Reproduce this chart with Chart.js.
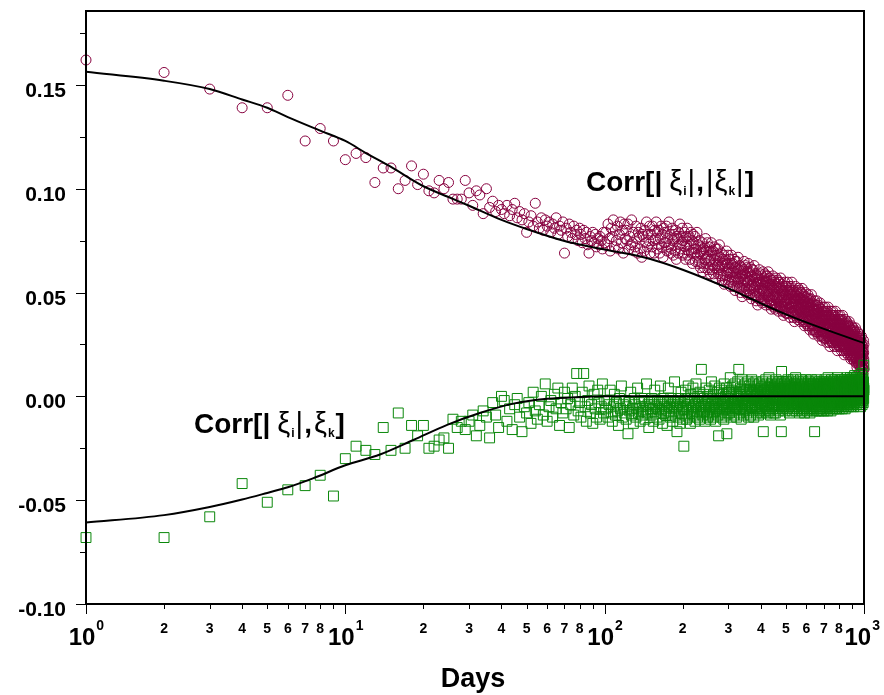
<!DOCTYPE html>
<html lang="en">
<head>
<meta charset="UTF-8" />
<title>Corr vs Days</title>
<script src="https://cdn.jsdelivr.net/npm/chart.js"></script>
<style>
  html, body { margin: 0; padding: 0; background: #fff; }
  #wrap { width: 884px; height: 695px; }
</style>
</head>
<body>
<div id="wrap"><canvas id="chart" width="884" height="695"></canvas></div>
<script>
// one value per day lag, day 1 .. 1000 (index 0 = day 1)
const absCorr = [
  .162,.156,.148,.139,.139,.145,.123,.129,.123,.114,
  .117,.115,.103,.110,.110,.100,.104,.111,.102,.107,
  .099,.098,.104,.100,.103,.095,.095,.095,.104,.098,
  .092,.099,.097,.088,.100,.091,.094,.089,.092,.090,
  .088,.092,.087,.090,.093,.086,.089,.085,.088,.079,
  .084,.087,.082,.093,.084,.081,.086,.080,.085,.082,
  .084,.079,.083,.081,.086,.078,.082,.080,.084,.069,
  .081,.077,.083,.079,.076,.082,.078,.080,.075,.081,
  .078,.074,.080,.076,.079,.073,.069,.077,.075,.079,
  .074,.078,.072,.076,.073,.077,.075,.071,.079,.074,
  .079,.073,.083,.076,.070,.081,.077,.085,.072,.080,
  .075,.082,.071,.078,.084,.074,.080,.069,.083,.076,
  .080,.075,.083,.071,.077,.073,.085,.074,.079,.070,
  .072,.082,.076,.069,.079,.077,.071,.081,.067,.078,
  .077,.070,.080,.074,.084,.072,.078,.075,.082,.069,
  .078,.072,.082,.075,.069,.080,.076,.084,.071,.079,
  .073,.080,.069,.076,.082,.072,.078,.067,.081,.074,
  .079,.074,.082,.070,.076,.072,.084,.073,.078,.069,
  .071,.081,.075,.068,.078,.076,.070,.080,.066,.077,
  .076,.069,.079,.073,.083,.071,.077,.074,.081,.068,
  .075,.069,.079,.072,.066,.077,.073,.081,.068,.076,
  .070,.077,.066,.073,.079,.069,.075,.064,.078,.071,
  .074,.069,.077,.065,.071,.067,.079,.068,.073,.064,
  .065,.075,.069,.062,.072,.070,.064,.074,.060,.071,
  .069,.062,.072,.066,.076,.064,.070,.067,.074,.061,
  .068,.062,.072,.065,.059,.070,.066,.074,.061,.069,
  .063,.070,.059,.066,.072,.062,.068,.057,.071,.064,
  .068,.063,.071,.059,.065,.061,.073,.062,.067,.058,
  .059,.069,.063,.056,.066,.064,.058,.068,.054,.065,
  .063,.056,.066,.060,.070,.058,.064,.061,.068,.055,
  .062,.056,.066,.059,.053,.064,.060,.068,.055,.063,
  .057,.064,.053,.060,.066,.056,.062,.051,.065,.058,
  .062,.057,.065,.053,.059,.055,.067,.056,.061,.052,
  .053,.063,.057,.050,.060,.058,.052,.062,.048,.059,
  .058,.051,.061,.055,.065,.053,.059,.056,.063,.050,
  .058,.052,.062,.055,.049,.060,.056,.064,.051,.059,
  .053,.060,.049,.056,.062,.052,.058,.047,.061,.054,
  .058,.053,.061,.049,.055,.051,.063,.052,.057,.048,
  .049,.059,.053,.046,.056,.054,.048,.058,.044,.055,
  .054,.047,.057,.051,.061,.049,.055,.052,.059,.046,
  .054,.048,.058,.051,.045,.056,.052,.060,.047,.055,
  .050,.057,.046,.053,.059,.049,.055,.044,.058,.051,
  .055,.050,.058,.046,.052,.048,.060,.049,.054,.045,
  .047,.057,.051,.044,.054,.052,.046,.056,.042,.053,
  .051,.044,.054,.048,.058,.046,.052,.049,.056,.043,
  .051,.045,.055,.048,.042,.053,.049,.057,.044,.052,
  .047,.054,.043,.050,.056,.046,.052,.041,.055,.048,
  .052,.047,.055,.043,.049,.045,.057,.046,.051,.042,
  .044,.054,.048,.041,.051,.049,.043,.053,.039,.050,
  .048,.041,.051,.045,.055,.043,.049,.046,.053,.040,
  .049,.043,.053,.046,.040,.051,.047,.055,.042,.050,
  .044,.051,.040,.047,.053,.043,.049,.038,.052,.045,
  .050,.045,.053,.041,.047,.043,.055,.044,.049,.040,
  .041,.051,.045,.038,.048,.046,.040,.050,.036,.047,
  .046,.039,.049,.043,.053,.041,.047,.044,.051,.038,
  .046,.040,.050,.043,.037,.048,.044,.052,.039,.047,
  .042,.049,.038,.045,.051,.041,.047,.036,.050,.043,
  .047,.042,.050,.038,.044,.040,.052,.041,.046,.037,
  .039,.049,.043,.036,.046,.044,.038,.048,.034,.045,
  .043,.036,.046,.040,.050,.038,.044,.041,.048,.035,
  .043,.037,.047,.040,.034,.045,.041,.049,.036,.044,
  .038,.045,.034,.041,.047,.037,.043,.032,.046,.039,
  .044,.039,.047,.035,.041,.037,.049,.038,.043,.034,
  .035,.045,.039,.032,.042,.040,.034,.044,.030,.041,
  .039,.032,.042,.036,.046,.034,.040,.037,.044,.031,
  .040,.034,.044,.037,.031,.042,.038,.046,.033,.041,
  .035,.042,.031,.038,.044,.034,.040,.029,.043,.036,
  .040,.035,.043,.031,.037,.033,.045,.034,.039,.030,
  .032,.042,.036,.029,.039,.037,.031,.041,.027,.038,
  .036,.029,.039,.033,.043,.031,.037,.034,.041,.028,
  .037,.031,.041,.034,.028,.039,.035,.043,.030,.038,
  .032,.039,.028,.035,.041,.031,.037,.026,.040,.033,
  .038,.033,.041,.029,.035,.031,.043,.032,.037,.028,
  .029,.039,.033,.026,.036,.034,.028,.038,.024,.035,
  .034,.027,.037,.031,.041,.029,.035,.032,.039,.026,
  .035,.029,.039,.032,.026,.037,.033,.041,.028,.036,
  .030,.037,.026,.033,.039,.029,.035,.024,.038,.031,
  .036,.031,.039,.027,.033,.029,.041,.030,.035,.026,
  .027,.037,.031,.024,.034,.032,.026,.036,.022,.033,
  .032,.025,.035,.029,.039,.027,.033,.030,.037,.024,
  .033,.027,.037,.030,.024,.035,.031,.039,.026,.034,
  .028,.035,.024,.031,.037,.027,.033,.022,.036,.029,
  .034,.029,.037,.025,.031,.027,.039,.028,.033,.024,
  .025,.035,.029,.022,.032,.030,.024,.034,.020,.031,
  .030,.023,.033,.027,.037,.025,.031,.028,.035,.022,
  .030,.024,.034,.027,.021,.032,.028,.036,.023,.031,
  .026,.033,.022,.029,.035,.025,.031,.020,.034,.027,
  .031,.026,.034,.022,.028,.024,.036,.025,.030,.021,
  .023,.033,.027,.020,.030,.028,.022,.032,.018,.029,
  .027,.020,.030,.024,.034,.022,.028,.025,.032,.019,
  .027,.021,.031,.024,.018,.029,.025,.033,.020,.028,
  .023,.030,.019,.026,.032,.022,.028,.017,.031,.024,
  .028,.023,.031,.019,.025,.021,.033,.022,.027,.018,
  .019,.029,.023,.016,.026,.024,.018,.028,.014,.025,
  .024,.017,.027,.021,.031,.019,.025,.022,.029,.016,
  .024,.018,.028,.021,.015,.026,.022,.030,.017,.025,
  .019,.026,.015,.022,.028,.018,.024,.013,.027,.020,
  .024,.019,.027,.015,.021,.017,.029,.018,.023,.014,
  .015,.025,.019,.012,.022,.020,.014,.024,.011,.021,
  .020,.013,.023,.017,.027,.015,.021,.018,.025,.013
];

const signCorr = [
  -.068,-.068,-.058,-.042,-.051,-.045,-.043,-.038,-.048,-.030,
  -.024,-.026,-.028,-.015,-.026,-.008,-.025,-.014,-.019,-.014,
  -.025,-.024,-.021,-.020,-.025,-.011,-.015,-.012,-.016,-.012,
  -.009,-.019,-.014,-.007,-.010,-.020,-.003,-.009,-.015,.000,
  -.002,-.012,-.006,-.016,-.004,-.001,-.010,-.017,-.005,-.008,
  -.003,-.013,.002,-.007,-.011,-.004,.000,-.009,.006,-.012,
  -.005,-.002,-.010,.001,-.006,.004,-.014,-.003,-.008,.002,
  -.006,-.001,-.015,-.004,.004,-.009,.000,.011,-.007,-.003,
  -.010,.002,.011,-.005,-.012,-.002,.005,-.008,-.004,-.013,
  .001,-.006,-.010,.003,-.003,-.011,-.005,.006,-.008,-.002,
  -.006,-.002,-.010,-.004,.003,-.008,-.012,-.005,.001,-.009,
  -.003,-.007,-.014,-.001,-.006,.005,-.010,-.004,-.008,-.002,
  -.011,-.005,-.018,-.003,-.007,.002,-.009,-.006,-.013,-.001,
  -.004,-.010,-.006,.004,-.008,-.003,-.012,-.005,-.001,-.009,
  -.007,-.002,-.011,-.005,.006,-.008,-.004,-.015,-.003,-.006,
  -.009,-.001,-.006,-.012,-.004,.003,-.008,-.005,-.010,-.002,
  -.006,-.011,-.003,.005,-.007,-.004,-.013,-.001,-.008,-.005,
  -.002,-.009,-.006,-.014,-.003,.004,-.007,-.005,-.010,-.001,
  -.008,-.004,-.012,-.002,-.006,.007,-.009,-.003,-.005,-.017,
  -.004,-.010,-.001,-.007,-.013,-.003,.002,-.008,-.005,-.011,
  -.006,-.024,-.002,-.009,.003,-.005,-.011,-.001,-.007,.005,
  -.004,-.010,-.002,-.013,.001,-.006,-.003,-.008,.004,-.005,
  -.009,-.001,-.012,-.004,.006,-.007,-.002,-.010,.000,-.005,
  -.003,-.011,.002,-.006,-.008,.013,-.004,-.001,-.009,-.005,
  .001,-.007,-.003,-.012,-.005,.004,-.008,-.002,-.010,.000,
  -.004,-.009,.003,-.006,-.001,-.011,-.005,.007,-.003,-.008,
  -.002,-.010,.001,-.005,-.007,.005,-.003,-.012,-.001,-.006,
  -.004,.002,-.009,-.003,-.019,-.006,.004,-.002,-.008,-.001,
  -.005,.003,-.010,-.002,-.007,.001,-.004,-.011,.006,-.003,
  -.006,.000,-.009,-.002,.004,-.018,-.005,-.001,-.008,.002,
  -.003,-.008,.002,-.005,.009,-.001,-.010,-.004,.003,-.006,
  -.002,.005,-.007,-.003,.001,-.009,-.004,.006,-.001,-.006,
  .002,-.005,-.010,.000,-.003,.007,-.006,-.001,.013,-.004,
  -.008,.001,-.003,.004,-.006,-.011,.000,-.004,.008,-.002,
  -.005,.002,-.009,-.001,.005,-.004,-.007,.001,-.003,.006,
  -.006,-.001,.003,-.008,.000,-.004,.007,-.002,-.010,.002,
  -.003,.005,-.006,.000,-.009,.003,-.002,-.005,.008,-.001,
  -.007,.002,-.004,.006,-.001,-.010,.001,-.003,.004,-.006,
  .000,-.005,.007,-.002,-.008,.003,-.004,.001,-.006,.005,
  -.002,-.009,.002,-.004,.006,-.001,-.007,.003,-.003,.000,
  -.005,.004,-.002,-.008,.001,-.003,.007,-.006,-.017,.002,
  -.001,.005,-.004,.000,-.007,.003,-.002,.008,-.005,.001,
  -.003,.006,-.008,.000,-.002,.004,-.006,.002,-.004,.009,
  -.001,-.007,.003,-.003,.005,-.009,.001,-.002,.006,-.005,
  .002,-.004,.007,-.001,-.006,.003,-.003,.000,-.008,.004,
  -.002,.005,-.005,.002,-.008,.004,-.001,.008,-.004,.001,
  -.006,.003,-.002,.006,-.004,.000,-.007,.004,-.001,.007,
  -.003,.002,-.005,.005,-.002,-.009,.003,-.001,.006,-.017,
  .012,-.004,.001,-.006,.004,-.002,.007,-.003,.000,-.005,
  .003,-.001,.006,-.004,.002,-.007,.005,-.002,.001,-.005,
  .004,-.002,.007,-.003,.000,-.006,.003,-.001,.008,-.004,
  .002,-.005,.005,-.002,.001,-.008,.004,-.003,.006,.000,
  -.004,.003,-.001,.007,-.005,.002,-.003,.005,-.007,.001,
  .004,-.002,.008,-.004,.000,-.006,.003,-.001,.006,-.003,
  .001,-.005,.005,-.002,.009,-.004,.002,-.007,.004,-.001,
  -.003,.006,-.001,.003,-.006,.001,-.004,.007,-.002,.002,
  -.005,.004,.000,-.008,.005,-.002,.003,-.004,.008,-.001,
  .002,-.006,.004,-.003,.001,-.007,.006,-.002,.003,-.005,
  .000,.007,-.004,.002,-.001,-.006,.005,-.003,.001,-.008,
  .004,-.002,.006,-.005,.002,-.001,.008,-.004,.000,-.006,
  .003,-.003,.005,-.001,-.007,.004,-.002,.006,-.005,.001,
  -.004,.007,-.001,.003,-.006,.002,-.003,.005,-.008,.000,
  .004,-.002,.006,-.005,.001,-.003,.008,-.001,.003,-.006,
  .002,-.004,.005,-.001,-.007,.003,.000,-.005,.006,-.002,
  .001,-.006,.004,-.003,-.017,.002,-.004,.007,-.001,.003,
  -.005,.005,-.002,.001,-.007,.004,-.003,.008,.000,-.004,
  .003,-.001,.006,-.006,.002,-.003,.005,-.002,.001,-.007,
  .004,-.004,.007,-.001,.002,-.005,.003,-.002,.006,-.006,
  .001,-.003,.005,-.007,.002,.000,-.004,.006,-.002,.003,
  -.005,.004,-.001,.007,-.006,.002,-.003,.005,-.001,-.007,
  .003,-.003,.006,-.001,.004,-.005,.008,.000,-.004,.005,
  .001,-.006,.004,-.002,.007,-.003,.002,-.005,.006,.000,
  -.003,.005,.001,-.007,.004,-.002,.009,-.004,.003,-.001,
  .006,-.005,.002,-.001,.005,-.006,.003,.000,-.003,.007,
  .002,-.004,.006,-.002,.001,-.007,.004,-.001,.008,-.003,
  .003,-.005,.005,.000,-.002,.006,-.006,.002,-.001,.004,
  -.004,.007,.001,-.003,.005,-.002,.003,-.006,.006,.000,
  .002,-.004,.008,-.001,.004,-.005,.001,-.002,.006,-.003,
  .005,-.001,.003,-.006,.007,.000,-.003,.004,-.002,.009,
  .001,-.005,.005,-.002,.003,-.004,.006,.000,-.003,.004,
  .002,-.006,.007,-.001,.004,-.003,.001,.008,-.004,.003,
  -.002,.005,.000,-.005,.006,-.001,.003,-.004,.007,.001,
  -.003,.004,.002,-.006,.008,-.002,.005,-.001,.003,-.004,
  .006,.000,-.003,.004,-.005,.007,.001,-.002,.005,-.004,
  .002,-.001,.008,-.003,.004,-.006,.003,.000,.006,-.002,
  .001,-.004,.005,-.001,.007,-.003,.002,-.005,.009,.000,
  .004,-.002,.006,-.004,.001,.007,-.003,.003,-.001,.005,
  -.005,.002,.008,-.002,.004,-.001,.006,-.004,.003,.000,
  .007,-.003,.002,.005,-.001,.009,-.004,.003,.001,-.002,
  .006,-.005,.004,.000,.008,-.002,.003,-.004,.005,.001,
  .004,-.002,.007,.000,.005,-.004,.009,.002,-.001,.006,
  .001,-.005,.008,.003,-.002,.006,.000,.004,-.003,.010,
  .002,-.001,.006,-.004,.005,.001,.008,-.002,.003,.000,
  .007,-.003,.004,.001,.009,-.001,.005,-.004,.002,.006,
  .000,.008,-.002,.004,.001,.006,-.003,.003,.010,-.001,
  .005,.002,-.004,.007,.000,.004,-.002,.008,.001,.003,
  -.003,.006,.002,.009,-.001,.004,.000,.007,-.005,.003,
  .005,-.002,.008,.001,.004,-.003,.006,.002,.011,-.001,
  .003,.007,-.004,.005,.000,.008,.002,-.002,.006,.004,
  .001,.009,-.003,.005,.002,.007,-.001,.004,.015,.003
];

// smooth fitted curves
const absFitDays = [1, 2, 3, 4, 5, 6, 8, 10, 12, 15, 20, 25, 30, 40, 50, 70, 80, 100, 150, 200, 300, 400, 500, 700, 1000];
const absFitVals = [.1563, .1520, .1480, .1430, .1390, .1345, .1280, .1230, .1172, .1105, .1012, .0960, .0918, .0850, .0806, .0748, .0731, .0707, .0662, .0610, .0520, .0448, .0395, .0325, .0257];
const signFitDays = [1, 2, 3, 4, 5, 6, 7.5, 10, 13.6, 18.3, 24.7, 33, 44.5, 60, 80, 100, 200, 1000];
const signFitVals = [-.0608, -.0572, -.0533, -.0497, -.0465, -.0438, -.0395, -.0332, -.0280, -.0210, -.0137, -.0080, -.0035, -.0012, -.0003, .0000, .0000, .0000];

const yTickValues = [-0.10, -0.05, 0.00, 0.05, 0.10, 0.15];
const yTickLabels = ["-0.10", "-0.05", "0.00", "0.05", "0.10", "0.15"];
const yMinorValues = [-0.075, -0.025, 0.025, 0.075, 0.125, 0.175];
const xDecades = [1, 10, 100, 1000];
const xDecadeExp = ["0", "1", "2", "3"];
const xMinorDigits = [2, 3, 4, 5, 6, 7, 8, 9];
const xMinorLabelled = [2, 3, 4, 5, 6, 7, 8];

const FONT = '"Liberation Sans", Arial, sans-serif';
const RED = '#87003f';
const GREEN = '#0a870a';

const absPoints = absCorr.map((v, i) => ({ x: i + 1, y: v }));
const signPoints = signCorr.map((v, i) => ({ x: i + 1, y: v }));
const absFit = absFitDays.map((d, i) => ({ x: d, y: absFitVals[i] }));
const signFit = signFitDays.map((d, i) => ({ x: d, y: signFitVals[i] }));

// draw a label made of pieces in different fonts, left to right
function drawPieces(ctx, x, y, pieces) {
  pieces.forEach(p => {
    ctx.font = p.f;
    x += p.dx || 0;
    ctx.fillText(p.t, x, y + (p.dy || 0));
    x += ctx.measureText(p.t).width;
  });
}

const axisDecor = {
  id: 'axisDecor',
  afterDraw(chart) {
    const { ctx, chartArea: a, scales: { x, y } } = chart;
    ctx.save();
    ctx.strokeStyle = '#000';
    ctx.fillStyle = '#000';

    // frame
    ctx.lineWidth = 2;
    ctx.strokeRect(a.left, a.top, a.right - a.left, a.bottom - a.top);

    // tick marks
    ctx.lineWidth = 1;
    ctx.beginPath();
    yTickValues.forEach(v => {
      const py = Math.round(y.getPixelForValue(v)) + 0.5;
      ctx.moveTo(a.left - 10, py); ctx.lineTo(a.left, py);
    });
    yMinorValues.forEach(v => {
      const py = Math.round(y.getPixelForValue(v)) + 0.5;
      ctx.moveTo(a.left - 6, py); ctx.lineTo(a.left, py);
    });
    xDecades.forEach(d => {
      const px = Math.round(x.getPixelForValue(d)) + 0.5;
      ctx.moveTo(px, a.bottom); ctx.lineTo(px, a.bottom + 10);
    });
    xDecades.slice(0, 3).forEach(d => {
      xMinorDigits.forEach(m => {
        const px = Math.round(x.getPixelForValue(m * d)) + 0.5;
        ctx.moveTo(px, a.bottom); ctx.lineTo(px, a.bottom + 5);
      });
    });
    ctx.stroke();

    // y labels
    ctx.textBaseline = 'alphabetic';
    ctx.textAlign = 'right';
    ctx.font = 'bold 21px ' + FONT;
    yTickValues.forEach((v, i) => {
      ctx.fillText(yTickLabels[i], 66, y.getPixelForValue(v) + 12);
    });

    // x labels: 10^n at decades, small digits between
    ctx.textAlign = 'left';
    xDecades.forEach((d, i) => {
      const px = x.getPixelForValue(d);
      ctx.font = 'bold 24px ' + FONT;
      const w10 = ctx.measureText('10').width;
      ctx.font = 'bold 14px ' + FONT;
      const wS = ctx.measureText(xDecadeExp[i]).width;
      let left = px - w10 / 2 - 4;
      if (left + w10 + wS + 1 > 880) left = 880 - w10 - wS - 1;
      ctx.font = 'bold 24px ' + FONT;
      ctx.fillText('10', left, 645);
      ctx.font = 'bold 14px ' + FONT;
      ctx.fillText(xDecadeExp[i], left + w10 + 1, 630);
    });
    ctx.textAlign = 'center';
    ctx.font = 'bold 14px ' + FONT;
    xDecades.slice(0, 3).forEach(d => {
      xMinorLabelled.forEach(m => {
        ctx.fillText(String(m), x.getPixelForValue(m * d), 633);
      });
    });

    ctx.font = 'bold 27px ' + FONT;
    ctx.fillText('Days', (a.left + a.right) / 2 - 2, 687);

    // curve labels
    ctx.textAlign = 'left';
    const big = 'bold 28px ' + FONT;
    const thin = '29px ' + FONT;
    const sub = 'bold 12px ' + FONT;
    drawPieces(ctx, 586, 191, [
      { t: 'Corr[|', f: big },
      { t: 'ξ', f: thin, dx: 7 },
      { t: 'i', f: sub, dy: 4, dx: 1 },
      { t: '|', f: thin, dx: 1 },
      { t: ',', f: 'bold 28px ' + FONT, dx: 1 },
      { t: '|', f: thin, dx: 2 },
      { t: 'ξ', f: thin, dx: 1 },
      { t: 'k', f: sub, dy: 4, dx: 1 },
      { t: '|', f: thin, dx: 1 },
      { t: ']', f: big, dx: 1 }
    ]);
    drawPieces(ctx, 194, 433, [
      { t: 'Corr[|', f: big },
      { t: 'ξ', f: thin, dx: 7 },
      { t: 'i', f: sub, dy: 4, dx: 1 },
      { t: '|', f: thin, dx: 1 },
      { t: ',', f: 'bold 28px ' + FONT, dx: 1 },
      { t: 'ξ', f: thin, dx: 2 },
      { t: 'k', f: sub, dy: 4, dx: 1 },
      { t: ']', f: big, dx: 1 }
    ]);
    ctx.restore();
  }
};

new Chart(document.getElementById('chart'), {
  type: 'scatter',
  data: {
    datasets: [
      {
        data: signFit, showLine: true, borderColor: '#000', borderWidth: 2,
        pointRadius: 0, cubicInterpolationMode: 'monotone', order: 1
      },
      {
        data: absFit, showLine: true, borderColor: '#000', borderWidth: 2,
        pointRadius: 0, cubicInterpolationMode: 'monotone', order: 2
      },
      {
        data: signPoints, pointStyle: 'rect', pointRadius: 7, pointBorderWidth: 1,
        borderColor: GREEN, backgroundColor: 'rgba(0,0,0,0)', clip: false, order: 3
      },
      {
        data: absPoints, pointStyle: 'circle', pointRadius: 5, pointBorderWidth: 1,
        borderColor: RED, backgroundColor: 'rgba(0,0,0,0)', clip: false, order: 4
      }
    ]
  },
  options: {
    responsive: false,
    animation: false,
    devicePixelRatio: 1,
    events: [],
    layout: { padding: { top: 11, right: 20, left: 0, bottom: 0 } },
    plugins: { legend: { display: false }, tooltip: { enabled: false } },
    scales: {
      x: {
        type: 'logarithmic', min: 1, max: 1000,
        ticks: { display: false }, grid: { display: false }, border: { display: false },
        afterFit: s => { s.height = 91; }
      },
      y: {
        type: 'linear', min: -0.10, max: 0.1856,
        ticks: { display: false }, grid: { display: false }, border: { display: false },
        afterFit: s => { s.width = 86; }
      }
    }
  },
  plugins: [axisDecor]
});
</script>
</body>
</html>
